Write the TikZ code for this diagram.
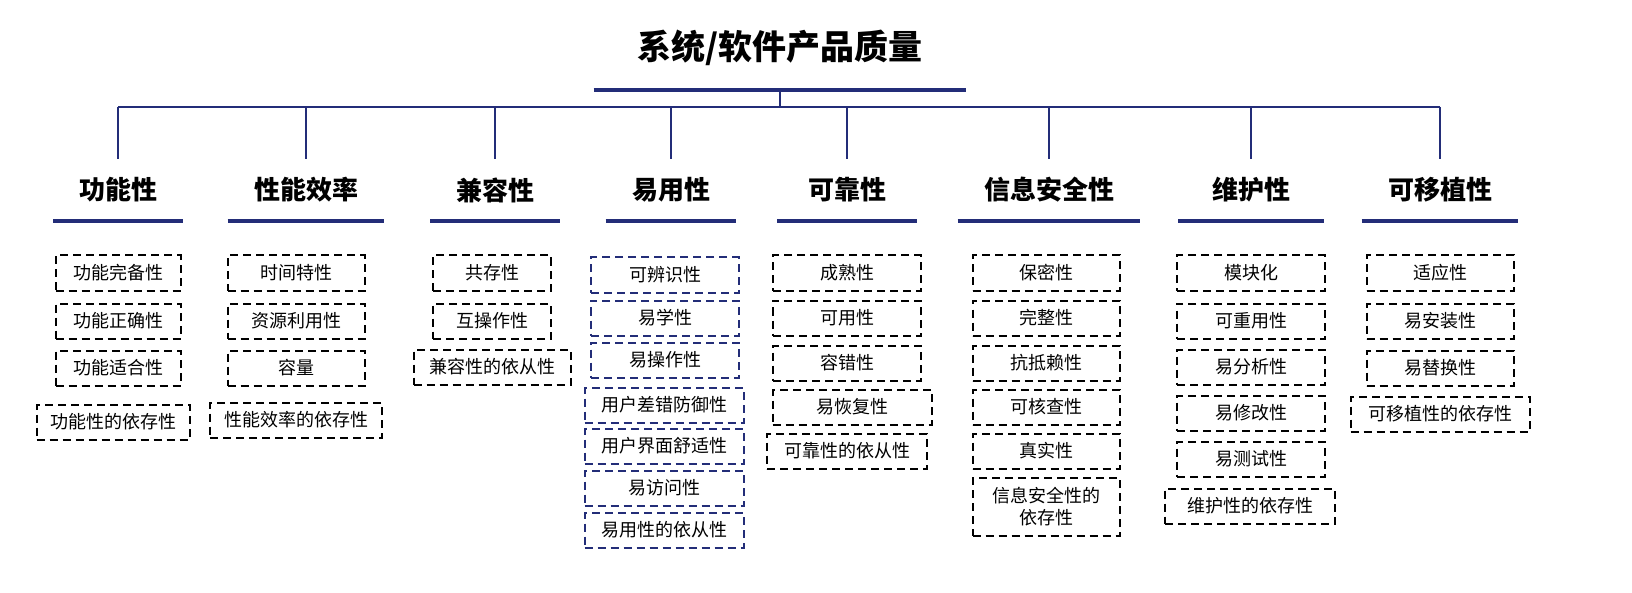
\documentclass[tikz,border=0pt]{standalone}
\usepackage{fontspec}
\setmainfont{Noto Sans CJK SC}
\usetikzlibrary{positioning,calc}
\definecolor{navy}{RGB}{35,45,120}
\tikzset{
  titlenode/.style={font=\fontsize{17}{20}\selectfont\bfseries, minimum height=42pt, inner sep=0pt},
  headnode/.style={font=\fontsize{13}{16}\selectfont\bfseries, minimum height=31pt, inner sep=0pt},
  underline/.style={draw=navy, line width=2pt},
  treeline/.style={draw=navy, line width=0.7pt},
  itembox/.style={draw, dashed, dash pattern=on 4pt off 2.5pt, line width=1pt, minimum height=17.5pt, inner sep=1pt, font=\fontsize{9}{11}\selectfont, align=center},
  itemboxnavy/.style={itembox, draw=navy},
}
\begin{document}%
\begin{tikzpicture}[x=0.5pt, y=-0.5pt]
% title
\node[titlenode, minimum width=186pt] (T) at (780,48) {系统/软件产品质量};
\draw[underline] (T.south west) -- (T.south east);
\coordinate (J) at (780,107);
\draw[treeline] (T.south) -- (J);
% column headers
\foreach \n/\x/\w/\t in {1/118/64.5/功能性, 2/306/78/性能效率, 3/495/64.5/兼容性, 4/671/65/易用性,
    5/847/69.5/可靠性, 6/1049/91/信息安全性, 7/1251/72.5/维护性, 8/1440/78/可移植性}{
  \node[headnode, minimum width=\w pt] (h\n) at (\x,190) {\t};
  \draw[underline] (h\n.south west) -- (h\n.south east);
  \coordinate (j\n) at (\x,107);
  \draw[treeline] (j\n) -- (h\n.north);
}
\draw[treeline] (j1) -- (j8);
% items
\foreach \t/\y/\w/\x [count=\i] in {功能完备性/273/62.5/118, 功能正确性/321/62.5/118, 功能适合性/368/62.5/118, 功能性的依存性/422/76.5/113}
  \node[itembox, minimum width=\w pt] (a\i) at (\x,\y) {\t};
\foreach \t/\y/\w/\x [count=\i] in {时间特性/273/68.5/296, 资源利用性/321/68.5/296, 容量/368/68.5/296, 性能效率的依存性/420/86/296}
  \node[itembox, minimum width=\w pt] (b\i) at (\x,\y) {\t};
\foreach \t/\y/\w/\x [count=\i] in {共存性/273/59/492, 互操作性/321/59/492, 兼容性的依从性/367/78.5/492}
  \node[itembox, minimum width=\w pt] (c\i) at (\x,\y) {\t};
\foreach \t/\y/\w/\x [count=\i] in {可辨识性/275/74/665, 易学性/318/74/665, 易操作性/360/74/665, 用户差错防御性/405/79.5/664,
    用户界面舒适性/446/79.5/664, 易访问性/488/79.5/664, 易用性的依从性/530/79.5/664}
  \node[itemboxnavy, minimum width=\w pt] (d\i) at (\x,\y) {\t};
\foreach \t/\y/\w/\x [count=\i] in {成熟性/273/74/847, 可用性/318/74/847, 容错性/363/74/847, 易恢复性/407/79.5/852, 可靠性的依从性/451/80/847}
  \node[itembox, minimum width=\w pt] (e\i) at (\x,\y) {\t};
\foreach \t/\y/\w/\x [count=\i] in {保密性/273/73.5/1046, 完整性/318/73.5/1046, 抗抵赖性/363/73.5/1046, 可核查性/407/73.5/1046, 真实性/451/73.5/1046}
  \node[itembox, minimum width=\w pt] (f\i) at (\x,\y) {\t};
\node[itembox, minimum width=73.5pt, minimum height=29pt] (f6) at (1046,507) {信息安全性的\\依存性};
\foreach \t/\y/\w/\x [count=\i] in {模块化/273/74/1251, 可重用性/321/74/1251, 易分析性/367/74/1251, 易修改性/413/74/1251, 易测试性/459/74/1251, 维护性的依存性/506/85/1250}
  \node[itembox, minimum width=\w pt] (g\i) at (\x,\y) {\t};
\foreach \t/\y/\w/\x [count=\i] in {适应性/273/73.5/1440, 易安装性/321/73.5/1440, 易替换性/368/73.5/1440, 可移植性的依存性/414/89.5/1440}
  \node[itembox, minimum width=\w pt] (k\i) at (\x,\y) {\t};
\pgfresetboundingbox
\useasboundingbox (0,0) rectangle (1632,593);
\end{tikzpicture}%
\end{document}
